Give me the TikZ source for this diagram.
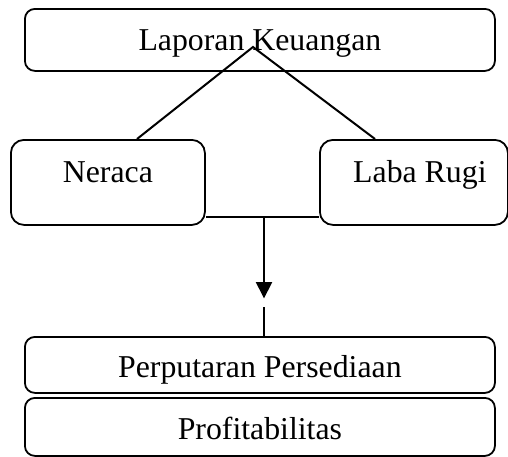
\documentclass[tikz,border=0pt]{standalone}
\usepackage{fontspec}
\setmainfont{Liberation Serif}
\usetikzlibrary{arrows.meta,calc}
\begin{document}
\begin{tikzpicture}[x=1pt,y=-1pt,
  box/.style={draw, line width=1.8pt, rounded corners=10pt, inner sep=0pt,
    font=\fontsize{31.8}{38}\selectfont},
  conn/.style={line width=2pt},
  arr/.style={line width=2pt, -{Triangle[width=16pt,length=16.5pt]}}]
\path[use as bounding box] (0,0) rectangle (508,456);
% top box: 24-494, 8-70, baseline 50
\node[box, minimum width=470pt, text height=42pt, text depth=20pt, anchor=north west] (lap) at (24,8) {Laporan Keuangan};
% Neraca: 10-204, 139-224, baseline 182
\node[box, rounded corners=13pt, minimum width=194pt, text height=43pt, text depth=42pt, anchor=north west] (ner) at (10,139) {Neraca};
% Laba Rugi: 319-507
\node[box, rounded corners=13pt, minimum width=188pt, text height=43pt, text depth=42pt, anchor=north west] (lab) at (319,139) {\hspace*{12pt}Laba Rugi};
% Perputaran: 24-494, 336-392, baseline 377
\node[box, minimum width=470pt, text height=41pt, text depth=15pt, anchor=north west] (per) at (24,336) {Perputaran Persediaan};
% Profitabilitas: 24-494, 397-455, baseline 439
\node[box, minimum width=470pt, text height=42pt, text depth=16pt, anchor=north west] (pro) at (24,397) {Profitabilitas};
% connectors
\coordinate (apex) at (253,47);
\coordinate (nl) at (137,139);
\coordinate (lr) at (375,139);
\draw[conn] (nl) -- (apex) -- (lr);
\coordinate (j) at (264,217);
\draw[conn] (ner.east |- j) -- (lab.west |- j);
\coordinate (tip) at (264,298.5);
\draw[arr] (j) -- (tip);
\coordinate (rs) at (264,307);
\draw[conn] (rs) -- (per.north -| rs);
\end{tikzpicture}
\end{document}
